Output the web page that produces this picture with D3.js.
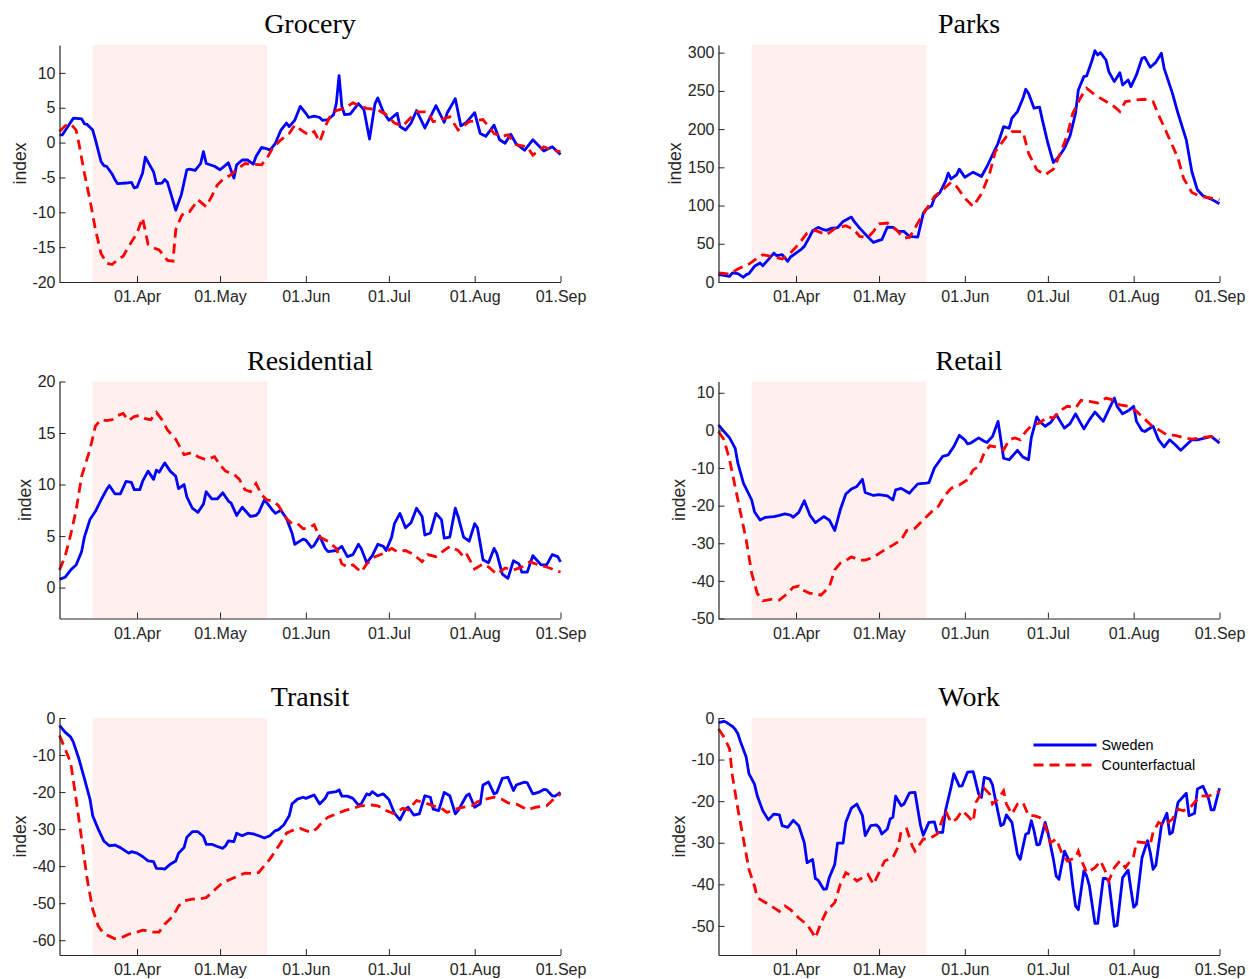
<!DOCTYPE html>
<html>
<head>
<meta charset="utf-8">
<script src="https://cdn.jsdelivr.net/npm/d3@7"></script>
<style>
  body { margin: 0; background: #fff; }
  .tick text { font-family: 'Liberation Sans', Arial, Helvetica, sans-serif; font-size: 16px; fill: #262626; }
  .domain, .tick line { stroke: #262626; }
</style>
</head>
<body>
<svg id="chart" width="1249" height="979"></svg>
<script>
// days are counted from 04.Mar 2020
const startDate = new Date(Date.UTC(2020, 2, 4))
const endDate = new Date(Date.UTC(2020, 8, 1))
const lockdownDays = [12, 75]
const monthTicks = ['2020-04-01', '2020-05-01', '2020-06-01', '2020-07-01', '2020-08-01', '2020-09-01']
const seriesNames = ['Sweden', 'Counterfactual']

const groceryTicks = [-20, -15, -10, -5, 0, 5, 10]
const parksTicks = [0, 50, 100, 150, 200, 250, 300]
const residentialTicks = [0, 5, 10, 15, 20]
const retailTicks = [-50, -40, -30, -20, -10, 0, 10]
const transitTicks = [-60, -50, -40, -30, -20, -10, 0]
const workTicks = [-50, -40, -30, -20, -10, 0]

// [day, index]
const grocerySweden = [[0,1.1],[1,1.1],[5,3.5],[8,3.4],[9,2.7],[10,2.6],[12,1.8],[13,0.4],[15,-2.7],[16,-3.3],[17,-3.4],[19,-4.5],[20,-5.3],[21,-5.9],[24,-5.8],[26,-5.7],[27,-6.5],[28,-6.4],[30,-4.4],[31,-2.1],[34,-4.2],[35,-5.9],[37,-5.8],[38,-5.3],[39,-5.7],[42,-9.7],[44,-7.5],[46,-3.9],[47,-3.8],[49,-4.0],[51,-3.0],[52,-1.3],[53,-3.0],[56,-3.4],[58,-3.9],[61,-2.9],[63,-5.1],[64,-3.2],[66,-2.5],[68,-2.5],[70,-3.1],[71,-2.0],[73,-0.7],[75,-0.9],[76,-1.1],[78,-0.1],[80,1.8],[82,2.8],[83,2.3],[85,3.2],[87,5.2],[89,4.2],[90,3.6],[92,3.8],[94,3.6],[95,3.2],[97,3.3],[99,4.0],[100,5.6],[101,9.6],[102,5.2],[103,4.0],[105,4.1],[108,5.6],[110,4.7],[112,0.5],[114,5.6],[115,6.4],[117,4.4],[119,3.2],[122,4.2],[123,2.3],[125,1.8],[127,2.8],[129,4.6],[132,2.1],[134,3.7],[136,5.3],[139,2.9],[140,4.2],[143,6.3],[145,2.4],[147,2.9],[150,4.3],[152,1.3],[154,0.9],[157,2.5],[159,0.4],[161,-0.1],[163,1.2],[165,-0.2],[168,-1.1],[171,0.4],[175,-1.2],[178,-0.6],[181,-1.7]]
const groceryCounterfactual = [[0,1.6],[2,2.4],[4,2.7],[6,1.8],[7,-0.1],[9,-4.4],[11,-8.2],[13,-12.5],[15,-15.9],[17,-17.3],[19,-17.5],[21,-16.8],[23,-16.3],[25,-14.9],[28,-13.0],[30,-10.8],[32,-14.6],[34,-15.1],[36,-15.4],[37,-15.9],[39,-16.9],[41,-17.0],[42,-12.5],[44,-10.6],[45,-10.0],[47,-9.9],[49,-8.8],[50,-8.2],[53,-9.2],[55,-7.7],[57,-6.1],[59,-5.3],[62,-4.6],[64,-3.9],[67,-3.0],[70,-3.1],[73,-3.2],[75,-2.2],[77,-0.8],[80,0.4],[83,1.3],[85,2.5],[88,1.6],[90,1.1],[92,1.6],[94,0.1],[96,2.3],[98,4.0],[100,4.6],[103,4.9],[106,5.7],[109,5.2],[111,4.9],[115,4.7],[118,4.0],[121,2.8],[124,2.4],[126,3.2],[129,4.4],[133,4.4],[135,3.0],[138,3.3],[141,3.7],[144,1.8],[148,3.0],[153,3.3],[157,1.3],[160,0.9],[162,1.1],[165,-0.3],[169,-0.6],[171,-1.8],[175,-0.6],[178,-1.1],[181,-1.3]]

const parksSweden = [[0,9.6],[2,8.7],[4,7.4],[5,11.8],[7,10.9],[9,6.1],[10,9.6],[11,10.9],[13,20.5],[15,24.8],[16,21.3],[18,29.2],[20,37.9],[21,34.4],[23,35.7],[25,27.0],[26,32.7],[28,37.9],[30,43.1],[31,46.6],[33,59.6],[34,67.0],[36,71.4],[38,68.4],[39,67.5],[41,70.5],[43,71.0],[45,79.2],[48,84.9],[49,79.2],[51,70.5],[54,58.8],[56,51.8],[58,54.4],[59,55.3],[61,71.8],[63,71.4],[65,66.2],[67,66.2],[69,59.6],[72,58.8],[74,90.1],[75,95.3],[77,99.7],[78,109.7],[80,117.1],[82,131.5],[83,142.4],[84,135.0],[86,140.2],[87,147.6],[89,137.1],[92,143.7],[95,138.0],[97,151.1],[99,166.3],[101,181.5],[103,203.3],[105,201.1],[106,214.2],[108,222.9],[110,240.3],[111,252.1],[112,246.8],[114,227.3],[116,228.6],[117,212.0],[119,181.5],[120,168.5],[121,156.3],[123,164.1],[125,175.0],[127,191.1],[129,220.7],[130,251.2],[132,268.6],[133,269.5],[135,290.4],[136,302.6],[137,296.9],[138,300.0],[140,290.4],[141,275.1],[143,262.1],[145,273.8],[146,257.7],[148,264.3],[149,255.5],[151,270.8],[153,292.6],[154,293.9],[156,280.8],[158,287.3],[160,299.1],[161,279.5],[164,246.8],[166,220.7],[169,185.9],[171,144.5],[173,120.6],[175,112.8],[178,108.4],[181,102.3]]
const parksCounterfactual = [[0,11.8],[4,10.4],[7,17.0],[11,23.5],[14,31.3],[16,35.7],[20,32.7],[23,30.0],[26,37.9],[29,49.6],[32,64.0],[35,67.5],[39,61.8],[42,69.7],[46,73.6],[49,68.4],[51,59.6],[54,58.3],[56,66.2],[58,76.2],[61,77.1],[64,69.2],[67,57.5],[69,58.3],[72,77.1],[75,94.5],[78,111.9],[81,120.6],[84,130.2],[86,124.9],[89,109.7],[92,98.8],[95,115.4],[98,142.4],[100,170.7],[104,190.2],[106,196.8],[110,196.8],[112,168.5],[115,146.7],[118,140.2],[121,147.6],[124,172.8],[126,192.4],[128,220.7],[131,242.5],[133,253.4],[136,244.7],[140,236.0],[143,229.4],[145,222.9],[147,236.0],[151,238.1],[154,239.0],[157,236.0],[159,218.5],[162,194.6],[166,162.0],[168,135.8],[171,117.1],[174,111.9],[178,109.7],[181,107.5]]

const residentialSweden = [[0,0.8],[2,1.0],[4,1.7],[6,2.2],[8,3.5],[9,4.9],[11,6.6],[13,7.4],[15,8.5],[17,9.5],[18,9.9],[20,9.1],[22,9.1],[24,10.3],[26,10.2],[27,9.5],[29,9.5],[30,10.3],[32,11.3],[34,10.5],[35,11.4],[36,11.2],[38,12.1],[40,11.3],[42,10.8],[43,9.6],[45,10.0],[46,8.8],[48,7.7],[50,7.3],[52,8.1],[53,9.3],[55,8.6],[57,8.6],[59,9.2],[61,8.4],[62,8.2],[64,7.0],[66,7.8],[69,6.9],[71,7.0],[72,7.3],[74,8.5],[75,8.2],[77,7.5],[78,7.2],[80,7.5],[82,6.7],[84,5.3],[85,4.2],[88,4.7],[89,4.6],[91,3.9],[92,4.1],[94,5.0],[96,3.8],[97,3.5],[100,3.6],[102,4.0],[104,3.0],[106,3.2],[108,4.2],[109,3.8],[111,2.4],[113,3.1],[115,4.2],[117,4.0],[118,3.6],[120,4.9],[121,6.2],[123,7.2],[125,5.8],[127,6.3],[129,7.7],[131,6.9],[132,5.1],[134,5.3],[136,7.2],[138,6.6],[139,4.8],[141,4.9],[143,7.7],[144,6.9],[146,4.9],[148,4.5],[150,6.2],[151,5.8],[153,2.7],[155,2.4],[157,3.8],[158,3.3],[160,1.3],[162,0.9],[164,2.6],[166,2.3],[167,1.5],[169,1.5],[171,3.1],[172,2.8],[174,2.2],[176,2.2],[178,3.2],[180,3.0],[181,2.5]]
const residentialCounterfactual = [[0,1.7],[2,3.0],[4,5.1],[6,7.5],[8,10.8],[11,13.4],[13,15.7],[15,16.3],[17,16.2],[19,16.3],[21,16.7],[23,16.9],[25,16.2],[27,16.6],[29,16.7],[31,16.4],[33,16.3],[35,17.0],[37,16.3],[39,15.3],[42,14.4],[45,12.9],[48,13.1],[50,12.7],[53,12.4],[56,12.7],[58,11.9],[60,11.3],[63,11.0],[65,10.5],[67,9.5],[69,9.3],[71,10.1],[73,9.0],[75,8.5],[77,8.4],[79,8.0],[82,6.7],[84,6.2],[86,6.2],[88,5.7],[90,5.8],[92,6.1],[94,4.9],[97,4.5],[100,3.8],[102,2.3],[104,2.0],[106,2.2],[109,1.5],[111,2.3],[114,3.0],[117,3.3],[120,3.8],[122,3.5],[125,3.6],[128,3.2],[131,2.5],[133,3.2],[136,3.0],[139,3.6],[141,4.0],[144,3.6],[146,3.0],[147,3.3],[150,1.8],[153,2.3],[155,2.0],[158,1.3],[161,1.9],[164,1.7],[167,2.0],[170,2.5],[173,2.2],[176,2.0],[181,1.5]]

const retailSweden = [[0,1.5],[2,-0.3],[4,-2.0],[6,-4.7],[7,-8.7],[9,-14.0],[12,-18.5],[13,-21.6],[15,-23.8],[17,-23.1],[20,-22.9],[22,-22.6],[24,-22.2],[26,-22.5],[27,-23.1],[29,-21.8],[31,-18.7],[33,-22.5],[35,-24.5],[38,-22.9],[40,-23.8],[42,-26.6],[44,-21.1],[46,-16.9],[48,-15.6],[50,-14.9],[52,-13.0],[53,-16.5],[56,-17.3],[58,-17.1],[61,-17.4],[63,-18.5],[64,-15.8],[66,-15.4],[69,-16.7],[70,-15.8],[72,-14.2],[75,-14.0],[76,-13.9],[78,-10.0],[81,-6.9],[83,-6.5],[85,-4.3],[87,-1.3],[89,-2.5],[90,-3.6],[91,-3.4],[94,-2.0],[96,-2.9],[97,-3.2],[99,-1.6],[101,2.4],[102,-2.5],[103,-7.4],[105,-7.8],[108,-5.3],[110,-7.1],[112,-7.8],[113,-2.0],[115,3.6],[116,2.4],[118,1.1],[120,2.1],[122,4.2],[125,0.6],[127,1.8],[129,4.4],[132,0.4],[134,2.8],[136,4.9],[139,2.4],[141,5.5],[143,8.6],[144,6.4],[146,4.4],[148,5.2],[150,6.4],[151,2.4],[153,0.0],[154,-0.3],[157,1.1],[159,-2.5],[161,-4.4],[163,-2.5],[165,-3.8],[167,-5.3],[171,-2.5],[173,-2.5],[176,-2.0],[178,-1.6],[181,-3.4]]
const retailCounterfactual = [[0,-0.3],[2,-2.5],[4,-7.8],[6,-14.9],[8,-22.0],[10,-29.1],[12,-38.0],[14,-43.3],[16,-45.3],[19,-44.9],[22,-45.1],[25,-43.3],[27,-41.7],[29,-41.4],[30,-42.3],[33,-43.3],[35,-43.3],[37,-43.8],[40,-41.6],[42,-37.1],[44,-35.3],[46,-34.6],[48,-33.6],[51,-34.5],[53,-34.5],[56,-33.7],[58,-32.7],[61,-31.3],[63,-30.5],[66,-29.1],[68,-26.6],[71,-26.0],[74,-23.8],[77,-21.6],[79,-20.7],[82,-17.1],[84,-15.4],[87,-14.5],[90,-13.1],[92,-10.5],[94,-9.6],[96,-6.0],[98,-4.1],[100,-4.4],[103,-5.2],[105,-2.5],[107,-2.0],[109,-2.5],[111,-0.3],[113,1.2],[116,2.0],[119,3.6],[121,3.3],[124,5.5],[126,6.4],[129,6.0],[131,8.0],[134,7.7],[137,7.3],[140,8.6],[142,8.2],[145,6.8],[148,6.4],[151,5.1],[154,3.0],[157,0.9],[159,0.2],[162,-1.2],[165,-1.3],[168,-1.9],[171,-2.3],[174,-2.0],[178,-1.6],[181,-2.5]]

const transitSweden = [[0,-2.0],[2,-3.8],[4,-5.1],[5,-6.5],[7,-11.0],[9,-16.4],[11,-21.9],[12,-26.4],[14,-30.0],[16,-33.2],[18,-34.5],[20,-34.3],[22,-35.0],[25,-36.5],[26,-36.1],[28,-36.5],[30,-37.4],[32,-38.6],[34,-38.8],[35,-40.6],[37,-40.7],[38,-40.8],[40,-39.5],[42,-38.6],[43,-36.5],[45,-35.0],[46,-32.2],[48,-30.7],[50,-30.7],[52,-32.0],[53,-34.1],[55,-34.1],[57,-34.7],[59,-35.2],[60,-34.5],[61,-33.2],[63,-33.4],[64,-31.1],[66,-31.8],[68,-31.1],[70,-31.3],[72,-31.8],[74,-32.4],[76,-31.8],[78,-30.4],[79,-30.2],[81,-28.9],[83,-26.4],[84,-23.2],[86,-21.9],[88,-21.4],[89,-21.7],[91,-21.1],[92,-20.8],[94,-23.2],[96,-21.7],[97,-20.2],[100,-19.9],[101,-19.4],[102,-21.1],[104,-21.1],[106,-21.7],[108,-23.5],[109,-23.2],[111,-20.5],[112,-20.8],[113,-19.9],[115,-21.0],[117,-20.5],[119,-22.0],[121,-25.7],[123,-27.5],[125,-24.6],[126,-24.1],[128,-26.2],[130,-25.9],[132,-21.0],[134,-21.4],[135,-24.6],[137,-25.0],[139,-20.1],[141,-21.0],[143,-25.9],[144,-25.0],[147,-21.0],[148,-20.5],[150,-24.1],[152,-23.2],[153,-18.1],[155,-17.3],[157,-20.5],[158,-20.1],[160,-16.3],[162,-16.0],[164,-19.6],[165,-18.1],[168,-17.3],[169,-17.5],[171,-20.5],[173,-20.1],[175,-19.3],[176,-19.4],[178,-21.0],[179,-21.1],[181,-20.1]]
const transitCounterfactual = [[0,-4.7],[2,-8.3],[4,-11.9],[6,-21.9],[8,-32.7],[10,-43.5],[12,-51.7],[14,-56.2],[16,-58.2],[18,-58.9],[20,-59.6],[23,-59.1],[25,-58.4],[28,-57.8],[30,-57.3],[32,-57.5],[34,-57.8],[36,-57.8],[38,-55.7],[41,-53.5],[43,-50.8],[45,-49.4],[48,-48.9],[50,-48.9],[53,-48.5],[55,-47.2],[57,-45.8],[59,-44.4],[62,-43.5],[64,-42.8],[67,-41.9],[70,-42.0],[72,-41.7],[74,-39.9],[76,-38.1],[78,-35.9],[80,-33.6],[82,-31.1],[84,-30.4],[87,-29.8],[89,-30.4],[91,-30.9],[93,-29.8],[95,-28.0],[97,-26.8],[100,-25.9],[103,-25.0],[106,-24.4],[109,-23.7],[113,-23.5],[115,-23.7],[118,-25.0],[121,-25.9],[124,-24.4],[126,-24.8],[129,-22.3],[132,-22.9],[135,-23.7],[138,-24.4],[140,-25.5],[143,-24.6],[146,-24.1],[149,-23.7],[151,-22.6],[154,-21.9],[157,-21.4],[160,-22.0],[162,-22.9],[165,-23.2],[169,-24.8],[172,-24.1],[176,-23.7],[178,-22.3],[181,-20.5]]

const workSweden = [[0,-1.1],[2,-0.8],[3,-1.1],[5,-2.0],[6,-2.7],[7,-3.8],[8,-5.8],[10,-9.4],[11,-13.4],[13,-15.9],[14,-18.7],[16,-22.3],[18,-24.5],[20,-23.1],[22,-23.3],[23,-25.9],[25,-26.3],[27,-24.6],[29,-25.9],[31,-30.0],[32,-34.8],[34,-34.0],[35,-38.6],[36,-39.0],[38,-41.2],[39,-41.1],[40,-38.4],[42,-35.2],[43,-30.1],[45,-30.1],[46,-25.1],[48,-21.7],[50,-20.7],[52,-23.5],[53,-28.3],[55,-25.9],[57,-25.7],[58,-26.3],[59,-27.9],[61,-26.7],[62,-24.3],[63,-23.9],[64,-18.8],[66,-21.1],[67,-20.7],[69,-18.0],[71,-17.9],[73,-25.9],[74,-28.2],[76,-25.1],[78,-25.0],[79,-27.5],[81,-27.5],[82,-22.3],[84,-16.7],[85,-13.4],[87,-16.4],[88,-16.3],[90,-13.0],[92,-12.9],[94,-18.3],[95,-19.1],[96,-14.3],[98,-14.7],[99,-16.1],[100,-19.5],[102,-25.9],[103,-25.5],[104,-23.3],[106,-25.1],[108,-32.8],[109,-34.0],[111,-27.9],[112,-27.7],[113,-24.7],[114,-27.1],[115,-30.5],[116,-30.4],[118,-25.1],[119,-27.5],[121,-34.0],[122,-38.0],[123,-38.8],[125,-32.0],[127,-34.8],[128,-40.4],[129,-45.2],[130,-46.1],[132,-36.8],[133,-38.0],[134,-40.4],[136,-49.4],[137,-49.4],[139,-38.6],[140,-38.6],[141,-39.2],[143,-50.1],[144,-49.9],[146,-38.4],[148,-36.6],[149,-41.2],[150,-45.5],[151,-44.8],[153,-33.6],[155,-29.5],[156,-32.4],[157,-36.4],[158,-35.4],[160,-25.9],[162,-22.9],[163,-27.9],[164,-27.5],[166,-20.3],[169,-18.1],[170,-23.5],[172,-22.9],[173,-17.1],[175,-16.4],[177,-19.3],[178,-22.1],[179,-22.1],[181,-16.9]]
const workCounterfactual = [[0,-2.6],[2,-4.6],[4,-7.4],[5,-13.8],[7,-21.9],[9,-29.1],[11,-36.4],[13,-40.4],[14,-43.2],[16,-44.0],[19,-45.2],[22,-46.5],[24,-45.2],[26,-46.1],[29,-48.1],[32,-49.7],[34,-51.7],[35,-52.9],[37,-49.3],[39,-46.5],[42,-44.4],[44,-40.0],[46,-37.2],[48,-38.0],[50,-39.2],[52,-38.4],[54,-37.6],[56,-40.0],[58,-37.2],[60,-34.4],[63,-33.6],[65,-30.8],[66,-27.1],[68,-26.7],[70,-30.8],[71,-32.0],[74,-29.1],[76,-29.1],[79,-27.9],[82,-22.3],[84,-25.1],[86,-24.3],[88,-22.3],[90,-23.5],[92,-25.0],[93,-20.3],[96,-16.9],[98,-18.3],[99,-20.7],[101,-19.5],[103,-17.5],[104,-20.7],[106,-23.1],[108,-20.7],[110,-20.3],[112,-23.5],[114,-23.5],[116,-23.9],[118,-25.9],[120,-30.0],[122,-29.1],[124,-32.4],[126,-34.4],[129,-33.6],[130,-32.0],[131,-34.0],[133,-37.2],[136,-36.0],[138,-34.4],[140,-37.2],[141,-39.2],[143,-36.0],[145,-34.4],[147,-36.0],[150,-33.2],[151,-29.8],[154,-30.0],[156,-30.4],[157,-27.5],[159,-25.1],[161,-25.9],[164,-24.3],[166,-21.9],[168,-22.3],[171,-21.1],[174,-18.7],[177,-18.8],[179,-18.3],[181,-17.7]]

// panel table, row by row
const panels = [
  { title: 'Grocery', sweden: grocerySweden, cf: groceryCounterfactual, ticks: groceryTicks, ylim: [-20, 14] },
  { title: 'Parks', sweden: parksSweden, cf: parksCounterfactual, ticks: parksTicks, ylim: [0, 310] },
  { title: 'Residential', sweden: residentialSweden, cf: residentialCounterfactual, ticks: residentialTicks, ylim: [-3, 20] },
  { title: 'Retail', sweden: retailSweden, cf: retailCounterfactual, ticks: retailTicks, ylim: [-50, 13] },
  { title: 'Transit', sweden: transitSweden, cf: transitCounterfactual, ticks: transitTicks, ylim: [-64, 0] },
  { title: 'Work', sweden: workSweden, cf: workCounterfactual, ticks: workTicks, ylim: [-57, 0] },
]

const colLeft = [59.5, 718.5]
const rowTop = [45, 381.5, 718]
const plotW = 501
const plotH = 237

const blue = '#0000ff'
const red = '#ff0000'
const sansFont = "'Liberation Sans', Arial, Helvetica, sans-serif"

const svg = d3.select('#chart')
const dayToDate = d => d3.utcDay.offset(startDate, d)
const fmt = d3.utcFormat('%d.%b')

panels.forEach((p, i) => {
  const left = colLeft[i % 2]
  const top = rowTop[Math.floor(i / 2)]

  const x = d3.scaleUtc().domain([startDate, endDate]).range([0, plotW])
  const y = d3.scaleLinear().domain(p.ylim).range([plotH, 0])

  const g = svg.append('g').attr('transform', `translate(${left},${top})`)

  // lockdown shading
  g.append('rect')
    .attr('x', x(dayToDate(lockdownDays[0])))
    .attr('y', 0)
    .attr('width', x(dayToDate(lockdownDays[1])) - x(dayToDate(lockdownDays[0])))
    .attr('height', plotH)
    .attr('fill', '#fff0f0')

  const line = d3.line()
    .x(d => x(dayToDate(d[0])))
    .y(d => y(d[1]))

  g.append('path')
    .datum(p.sweden)
    .attr('d', line)
    .attr('fill', 'none')
    .attr('stroke', blue)
    .attr('stroke-width', 2.8)
    .attr('stroke-linejoin', 'round')

  g.append('path')
    .datum(p.cf)
    .attr('d', line)
    .attr('fill', 'none')
    .attr('stroke', red)
    .attr('stroke-width', 2.8)
    .attr('stroke-dasharray', '10,6')

  // axes, ticks pointing inwards
  g.append('g')
    .attr('transform', `translate(0,${plotH})`)
    .call(d3.axisBottom(x)
      .tickValues(monthTicks.map(s => new Date(s + 'T00:00:00Z')))
      .tickFormat(fmt)
      .tickSize(-6)
      .tickSizeOuter(0)
      .tickPadding(9))

  // plain hyphen for negatives, like the original
  const yAxis = g.append('g')
    .call(d3.axisLeft(y)
      .tickValues(p.ticks)
      .tickFormat(d => String(d))
      .tickSize(-6)
      .tickSizeOuter(0)
      .tickPadding(4))

  g.selectAll('.domain').attr('stroke-width', 1.2)

  const maxW = d3.max(yAxis.selectAll('text').nodes(), n => n.getComputedTextLength())

  g.append('text')
    .attr('transform', `translate(${-4 - maxW - 13},${plotH / 2}) rotate(-90)`)
    .attr('text-anchor', 'middle')
    .attr('dy', '0.35em')
    .attr('font-family', sansFont)
    .attr('font-size', 17.6)
    .attr('fill', '#262626')
    .text('index')

  g.append('text')
    .attr('x', plotW / 2)
    .attr('y', -12)
    .attr('text-anchor', 'middle')
    .attr('font-family', "'Liberation Serif', 'Times New Roman', serif")
    .attr('font-size', 28)
    .attr('fill', '#000')
    .text(p.title)

  // legend only in the last panel
  if (i === panels.length - 1) {
    const legend = g.append('g').attr('transform', 'translate(315,27)')
    seriesNames.forEach((name, k) => {
      legend.append('line')
        .attr('x1', 0).attr('x2', 63)
        .attr('y1', k * 20).attr('y2', k * 20)
        .attr('stroke', k === 0 ? blue : red)
        .attr('stroke-width', 2.8)
        .attr('stroke-dasharray', k === 0 ? null : '10,6')
      legend.append('text')
        .attr('x', 68)
        .attr('y', k * 20)
        .attr('dy', '0.35em')
        .attr('font-family', sansFont)
        .attr('font-size', 14.4)
        .attr('fill', '#000')
        .text(name)
    })
  }
})
</script>
</body>
</html>
